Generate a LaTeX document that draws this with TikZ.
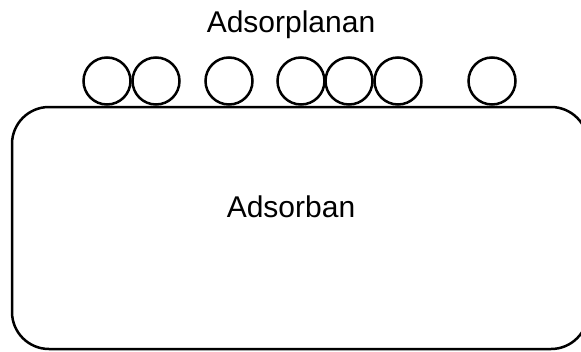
\documentclass[tikz,border=0pt]{standalone}
\usepackage{fontspec}
\setmainfont{Liberation Sans}
\begin{document}
\begin{tikzpicture}[x=1pt,y=-1pt,
  stroke/.style={draw=black,line width=2.5pt},
  particle/.style={stroke,circle,minimum size=47pt,inner sep=0pt},
  lbl/.style={font=\fontsize{30}{36}\selectfont,anchor=base,inner sep=0pt}]
\useasboundingbox (0,0) rectangle (581,351);
\node[stroke,rectangle,rounded corners=37pt,minimum width=576pt,minimum height=242pt,inner sep=0pt] (adsorban) at (300,228) {};
\node[lbl] (adsorbanlabel) at (291,217) {Adsorban};
\node[lbl] (adsorplananlabel) at (291,32) {Adsorplanan};
\foreach \i/\x in {1/107,2/156,3/229,4/301,5/349,6/398,7/492}{
  \node[particle] (p\i) at (\x,81) {};
}
\end{tikzpicture}
\end{document}
